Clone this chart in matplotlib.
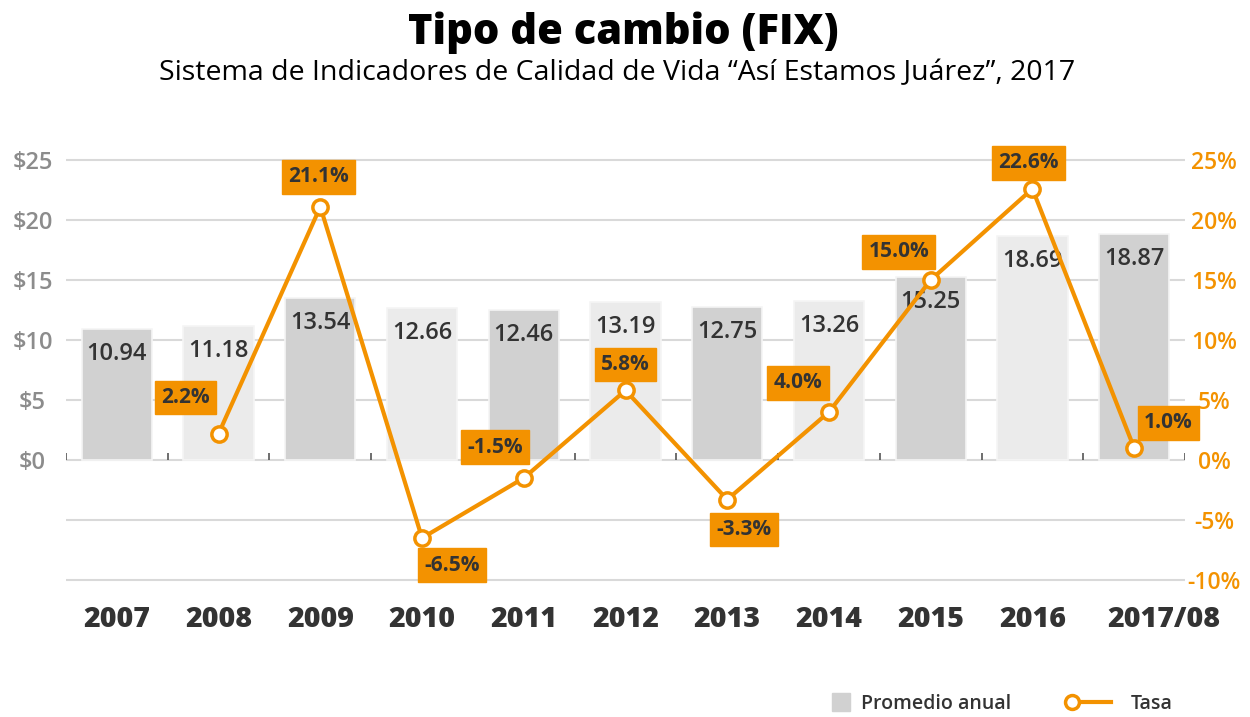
import numpy as np
import matplotlib
matplotlib.use("Agg")
import matplotlib.pyplot as plt
from matplotlib.lines import Line2D
from matplotlib.transforms import ScaledTranslation

plt.rcParams['font.family'] = ['Open Sans', 'DejaVu Sans']

# ---------------------------------------------------------------- data
years = ["2007", "2008", "2009", "2010", "2011", "2012", "2013", "2014",
         "2015", "2016", "2017/08"]
promedio = [10.94, 11.18, 13.54, 12.66, 12.46, 13.19, 12.75, 13.26,
            15.25, 18.69, 18.87]
tasa = [None, 2.2, 21.1, -6.5, -1.5, 5.8, -3.3, 4.0, 15.0, 22.6, 1.0]

# label offsets (pixels) for the rate boxes, relative to each point
tasa_offsets = [None, (-33, 36), (-2, 30), (30, -27), (-29, 31), (0, 26),
                (17, -30), (-31, 29), (-32, 28), (-4, 26), (34, 25)]

ORANGE = "#f39200"
DARK_BAR = "#d1d1d1"
LIGHT_BAR = "#ebebeb"
TEXT = "#333333"

# ---------------------------------------------------------------- figure
fig = plt.figure(figsize=(12.5, 7.17), dpi=100)
ax = fig.add_axes([0.0528, 0.1827, 0.8952, 0.6109])
ax2 = ax.twinx()

x = np.arange(len(years))
colors = [DARK_BAR if i % 2 == 0 else LIGHT_BAR for i in x]
ax.bar(x, promedio, width=0.69, color=colors, edgecolor="#f5f5f5",
       linewidth=1.2, zorder=2)

for xi, v in zip(x, promedio):
    ax.annotate("{:.2f}".format(v), (xi, v), xytext=(0, -25),
                textcoords="offset pixels", ha="center", va="center",
                fontsize=17, fontweight="semibold", color=TEXT, zorder=3)

ylim = (-10.5, 26)
ax.set_ylim(*ylim)
ax2.set_ylim(*ylim)
ax.set_xlim(-0.5, len(years) - 0.5)

# gridlines
for g in np.arange(-10, 26, 5):
    ax.axhline(g, color="#d9d9d9", linewidth=1.5, zorder=1)

# small separators on the zero line
ax.vlines(np.arange(-0.5, len(years)), 0, 0.6, color="#555555",
          linewidth=1.2, zorder=3)

# rate line
tx = [xi for xi, t in zip(x, tasa) if t is not None]
ty = [t for t in tasa if t is not None]
ax2.plot(tx, ty, color=ORANGE, linewidth=3, marker="o", markersize=11,
         markerfacecolor="white", markeredgecolor=ORANGE,
         markeredgewidth=2.5, zorder=5)

for xi, t, off in zip(x, tasa, tasa_offsets):
    if t is None:
        continue
    ax2.annotate("{:.1f}%".format(t), (xi, t), xytext=off,
                 textcoords="offset pixels", ha="center", va="center",
                 fontsize=15, fontweight="bold", color=TEXT, zorder=6,
                 bbox=dict(boxstyle="square,pad=0.3", facecolor=ORANGE,
                           edgecolor=ORANGE))

# axes formatting
for a in (ax, ax2):
    for s in a.spines.values():
        s.set_visible(False)
ax.set_zorder(ax2.get_zorder() - 1)
ax2.patch.set_visible(False)

ax.set_yticks(np.arange(0, 26, 5))
ax.set_yticklabels(["${:d}".format(int(v)) for v in np.arange(0, 26, 5)])
ax.tick_params(axis="y", length=0, pad=24, labelsize=17,
               labelcolor="#8c8c8c")
for lab in ax.get_yticklabels():
    lab.set_horizontalalignment("center")
    lab.set_fontweight("semibold")

ax2.set_yticks(np.arange(-10, 26, 5))
ax2.set_yticklabels(["{:d}%".format(int(v)) for v in np.arange(-10, 26, 5)])
ax2.tick_params(axis="y", length=0, pad=21, labelsize=16.5,
                labelcolor=ORANGE)
for lab in ax2.get_yticklabels():
    lab.set_horizontalalignment("center")
    lab.set_fontweight("semibold")

ax.set_xticks(x)
ax.set_xticklabels(years)
ax.tick_params(axis="x", length=0, pad=14, labelsize=20.5, labelcolor=TEXT)
for lab in ax.get_xticklabels():
    lab.set_fontweight("heavy")
# the last, longer label sits a little to the right in the original
last = ax.get_xticklabels()[-1]
last.set_transform(last.get_transform()
                   + ScaledTranslation(0.3, 0, fig.dpi_scale_trans))

# titles
fig.text(0.499, 0.955, "Tipo de cambio (FIX)", ha="center", va="center",
         fontsize=30, fontweight="heavy", color="black")
fig.text(0.494, 0.898,
         "Sistema de Indicadores de Calidad de Vida \u201cAs\u00ed Estamos Ju\u00e1rez\u201d, 2017",
         ha="center", va="center", fontsize=20.5, fontweight="medium",
         color="black")

# legends (two, so each gets its own handle length)
bar_handle = Line2D([], [], linestyle="none", marker="s", markersize=13,
                    markerfacecolor=DARK_BAR, markeredgecolor=DARK_BAR)
line_handle = Line2D([], [], color=ORANGE, linewidth=3, marker="o",
                     markersize=10, markerfacecolor="white",
                     markeredgecolor=ORANGE, markeredgewidth=2.5)
leg1 = fig.legend([bar_handle], ["Promedio anual"], loc="center left",
                  bbox_to_anchor=(0.664, 0.018), frameon=False, fontsize=14,
                  handlelength=1.1, handletextpad=0.5, borderpad=0,
                  borderaxespad=0, labelcolor=TEXT)
leg2 = fig.legend([line_handle], ["Tasa"], loc="center left",
                  bbox_to_anchor=(0.853, 0.018), frameon=False, fontsize=14,
                  handlelength=2.6, handletextpad=0.7, borderpad=0,
                  borderaxespad=0, numpoints=2, labelcolor=TEXT)
# keep only the left marker on the line sample
for ln in leg2.findobj(Line2D):
    if ln.get_marker() == "o":
        ln.set_markevery([0])
for leg in (leg1, leg2):
    for t in leg.get_texts():
        t.set_fontweight("semibold")

fig.savefig("out.png", dpi=100)
